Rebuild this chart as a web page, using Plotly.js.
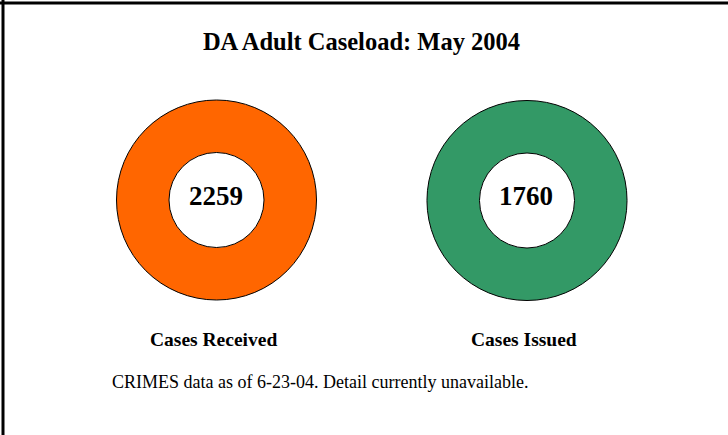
<!DOCTYPE html>
<html>
<head>
<meta charset="utf-8">
<script src="https://cdn.plot.ly/plotly-3.0.1.min.js"></script>
<style>html,body{margin:0;padding:0;background:#fff;}#chart{width:728px;height:435px;}</style>
</head>
<body>
<div id="chart"></div>
<script>
const chartTitle = "DA Adult Caseload: May 2004";
const categories = ["Cases Received", "Cases Issued"];
const caseValues = [2259, 1760];
const seriesColors = ["#FF6600", "#339966"];
const footnote = "CRIMES data as of 6-23-04. Detail currently unavailable.";

const W = 728, H = 435;
const serif = "Liberation Serif, Times New Roman, serif";
// donut centres (px) and radius
const centres = [[216.5, 200], [527, 200.5]];
const R = 100;

const traces = categories.map((c, i) => ({
  type: "pie",
  labels: [c],
  values: [caseValues[i]],
  marker: { colors: [seriesColors[i]], line: { color: "#000", width: 1 } },
  hole: 0.475,
  sort: false,
  textinfo: "none",
  hoverinfo: "label+value",
  showlegend: false,
  domain: {
    x: [(centres[i][0] - R) / W, (centres[i][0] + R) / W],
    y: [(H - centres[i][1] - R) / H, (H - centres[i][1] + R) / H]
  }
}));

const annotations = [];
categories.forEach((c, i) => {
  annotations.push({
    text: String(caseValues[i]),
    xref: "paper", yref: "paper",
    x: (centres[i][0] - 1) / W, y: (H - 196) / H,
    xanchor: "center", yanchor: "middle",
    showarrow: false,
    font: { family: serif, size: 27, weight: "bold", color: "#000" }
  });
  annotations.push({
    text: c,
    xref: "paper", yref: "paper",
    x: (centres[i][0] - 3) / W, y: (H - 339) / H,
    xanchor: "center", yanchor: "middle",
    showarrow: false,
    font: { family: serif, size: 19.5, weight: "bold", color: "#000" }
  });
});
annotations.push({
  text: footnote,
  xref: "paper", yref: "paper",
  x: 110 / W, y: (H - 382) / H,
  xanchor: "left", yanchor: "middle",
  showarrow: false,
  font: { family: serif, size: 18, color: "#000" }
});

const layout = {
  width: W, height: H,
  margin: { l: 0, r: 0, t: 0, b: 0 },
  paper_bgcolor: "#fff",
  plot_bgcolor: "#fff",
  title: {
    text: chartTitle,
    x: 361.5 / W, xanchor: "center",
    y: 1 - 41 / H, yanchor: "middle",
    font: { family: serif, size: 24.5, weight: "bold", color: "#000" }
  },
  annotations: annotations,
  shapes: [
    { type: "line", xref: "paper", yref: "paper", x0: 0, x1: 1, y0: 1 - 3 / H, y1: 1 - 3 / H, line: { color: "#000", width: 3 } },
    { type: "line", xref: "paper", yref: "paper", x0: 3 / W, x1: 3 / W, y0: 0, y1: 1, line: { color: "#000", width: 3 } }
  ]
};

Plotly.newPlot("chart", traces, layout, { displayModeBar: false, staticPlot: true });
</script>
</body>
</html>
